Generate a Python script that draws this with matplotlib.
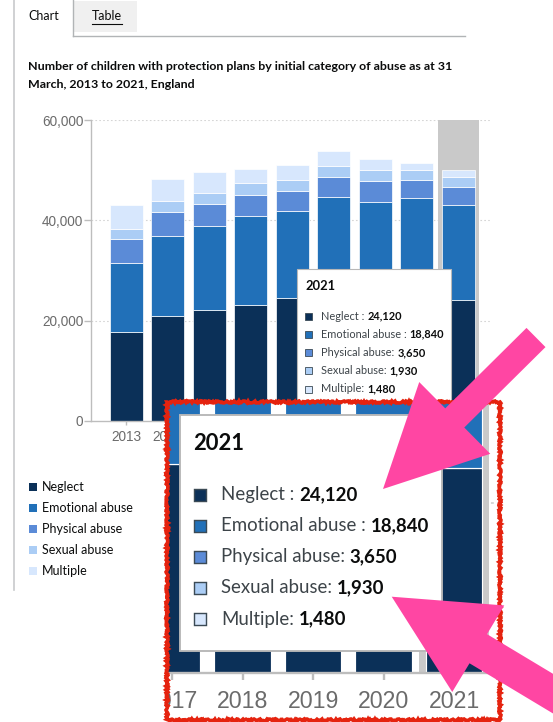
import matplotlib
matplotlib.use('Agg')
import matplotlib.pyplot as plt
import matplotlib.patches as mpatches
import matplotlib.lines as mlines
import matplotlib.transforms as mtransforms
import numpy as np

# ---------------- data ----------------
years = ['2013', '2014', '2015', '2016', '2017', '2018', '2019', '2020', '2021']
categories = ['Neglect', 'Emotional abuse', 'Physical abuse', 'Sexual abuse', 'Multiple']
neglect = [17800, 21000, 22200, 23100, 24600, 25800, 25300, 25200, 24120]
emotional = [13700, 15900, 16600, 17800, 17200, 18800, 18400, 19200, 18840]
physical = [4700, 4700, 4400, 4200, 4000, 4100, 4200, 3700, 3650]
sexual = [2000, 2200, 2300, 2300, 2200, 2200, 2200, 2000, 1930]
multiple = [4900, 4500, 4200, 2900, 3100, 2900, 2200, 1400, 1480]
yticks = [0, 20000, 40000, 60000]
ytick_labels = ['0', '20,000', '40,000', '60,000']
title_lines = ['Number of children with protection plans by initial category of abuse as at 31',
               'March, 2013 to 2021, England']
tooltip_labels = ['Neglect :', 'Emotional abuse :', 'Physical abuse:', 'Sexual abuse:', 'Multiple:']
highlight_index = 8

series = [neglect, emotional, physical, sexual, multiple]
colors = ['#0b3058', '#2170b8', '#5b8bd7', '#abcdf5', '#d7e7fd']

# ---------------- figure ----------------
W, H = 553, 722
fig = plt.figure(figsize=(W / 100, H / 100), dpi=100)
fig.patch.set_facecolor('white')
PX = mtransforms.Affine2D().scale(1, -1).translate(0, H)  # pixel coords from top-left
SANS = ['Lato', 'DejaVu Sans']
TICKF = ['Liberation Sans', 'DejaVu Sans']
renderer = fig.canvas.get_renderer()

def ptext(x, y, s, **kw):
    kw.setdefault('family', SANS)
    kw.setdefault('va', 'center')
    kw.setdefault('ha', 'left')
    return fig.text(x, y, s, transform=PX, **kw)

def prect(x, y, w, h, **kw):
    r = mpatches.Rectangle((x, y), w, h, transform=PX, **kw)
    fig.add_artist(r)
    return r

def pline(xs, ys, **kw):
    l = mlines.Line2D(xs, ys, transform=PX, **kw)
    fig.add_artist(l)
    return l

def width_of(t):
    return t.get_window_extent(renderer=renderer).width

# ---------------- page chrome ----------------
pline([14, 14], [0, 590], color='#c8cacc', lw=1.2)
pline([72.5, 72.5], [0, 36], color='#b1b4b6', lw=1)
pline([72.5, 465], [35.5, 35.5], color='#b1b4b6', lw=1)
prect(74, 1, 63, 31, facecolor='#f0f0f0', edgecolor='none')
ptext(28, 16, 'Chart', fontsize=9, color='#0b0c0c')
tt = ptext(92, 16, 'Table', fontsize=9, color='#0b0c0c')
pline([92, 92 + width_of(tt)], [23.5, 23.5], color='#0b0c0c', lw=0.8)

t1 = ptext(28, 66, title_lines[0], fontsize=8, fontweight='bold', color='#0b0c0c')
t1.set_fontsize(t1.get_fontsize() * 429 / width_of(t1))
ptext(28, 85, title_lines[1], fontsize=t1.get_fontsize(), fontweight='bold', color='#0b0c0c')

# ---------------- chart geometry ----------------
ML, MR, MT, MB = 91, 490, 120, 421
XC0, XSTEP = 126.3, 41.5
YMAX = 60000
x = np.arange(len(years))

def main_px_to_data(px, py):
    return (px - XC0) / XSTEP, (MB - py) / (MB - MT) * YMAX

def draw_bars(a, s):
    a.bar(highlight_index, YMAX, width=1.0, color='#c9c9c9', linewidth=0, zorder=1)
    for v in yticks[1:]:
        a.axhline(v, color='#d5d5d5', lw=0.8 * s, ls=(0, (1.5, 2)), zorder=0.5)
    bottom = np.zeros(len(years))
    for vals, c in zip(series, colors):
        a.bar(x, vals, 0.8, bottom=bottom, color=c, edgecolor='white', linewidth=0.5 * s, zorder=2)
        bottom += np.array(vals)

ax = fig.add_axes([ML / W, 1 - MB / H, (MR - ML) / W, (MB - MT) / H], zorder=0)
ax.set_xlim(main_px_to_data(ML, 0)[0], main_px_to_data(MR, 0)[0])
ax.set_ylim(0, YMAX)
draw_bars(ax, 1.0)
for sp in ['top', 'right']:
    ax.spines[sp].set_visible(False)
for sp in ['left', 'bottom']:
    ax.spines[sp].set_color('#bdbdbd')
    ax.spines[sp].set_linewidth(1.0)
ax.set_yticks(yticks)
ax.set_yticklabels(ytick_labels, family=TICKF, fontsize=9.8, color='#6b6b6b')
ax.set_xticks(x)
ax.set_xticklabels(years, family=TICKF, fontsize=9.8, color='#6b6b6b')
ax.tick_params(axis='y', length=5, width=1, color='#bdbdbd', pad=0.5)
ax.tick_params(axis='x', length=3, width=1, color='#bdbdbd', pad=3.5)
ax.set_facecolor('none')

# ---------------- legend ----------------
for i, (cat, c) in enumerate(zip(categories, colors)):
    yc = 487 + 21 * i
    prect(29, yc - 4, 8, 8, facecolor=c, edgecolor='none')
    ptext(42, yc, cat, fontsize=9, color='#0b0c0c')

# ---------------- tooltip ----------------
def draw_tooltip(ox, oy, s, z):
    prect(ox, oy, 154 * s, 139 * s, facecolor='white', edgecolor='#b8b8b8', lw=0.8 * s, zorder=z)
    ptext(ox + 8 * s, oy + 17 * s, years[highlight_index], fontsize=9.3 * s, fontweight='bold',
          color='#0b0c0c', zorder=z + 1)
    for i, (lab, vals, c) in enumerate(zip(tooltip_labels, series, colors)):
        yc = oy + (47 + 18.25 * i) * s
        prect(ox + 8 * s, yc - 3.5 * s, 7 * s, 7 * s, facecolor=c, edgecolor='#3b4a55',
              lw=0.6 * s, zorder=z + 1)
        t = ptext(ox + 24 * s, yc, lab, fontsize=7.9 * s, color='#3d4449', zorder=z + 1)
        w = width_of(t)
        ptext(ox + 24 * s + w + 3 * s, yc, f'{vals[highlight_index]:,}', fontsize=7.9 * s,
              fontweight='bold', color='#0b0c0c', zorder=z + 1)

TIP_X, TIP_Y = 297, 269
draw_tooltip(TIP_X, TIP_Y, 1.0, 5)

# ---------------- magnified inset ----------------
MAG = 1.7
IN_X, IN_Y = 180, 415  # where the tooltip's top-left lands in the inset
IL, IR, IT, IB = 167, 499, 402, 720

def inset_to_main(xi, yi):
    return TIP_X + (xi - IN_X) / MAG, TIP_Y + (yi - IN_Y) / MAG

# main-chart year labels that sit completely under the inset are not shown
cover_left = inset_to_main(IL, IT)[0]
for i, lab in enumerate(ax.get_xticklabels()):
    if XC0 + i * XSTEP - 16 > IL:
        lab.set_visible(False)

ax2 = fig.add_axes([IL / W, 1 - IB / H, (IR - IL) / W, (IB - IT) / H], zorder=10)
x0, y1 = main_px_to_data(*inset_to_main(IL, IT))
x1, y0 = main_px_to_data(*inset_to_main(IR, IB))
ax2.set_xlim(x0, x1)
ax2.set_ylim(y0, y1)
ax2.set_facecolor('white')
ax2.set_xticks([])
ax2.set_yticks([])
for sp in ax2.spines.values():
    sp.set_visible(False)
draw_bars(ax2, MAG)
ax2.axhline(0, color='#bdbdbd', lw=1.0 * MAG, zorder=3)
tick_len = 4 / (MB - MT) * YMAX
ax2.vlines(x, -tick_len, 0, color='#bdbdbd', lw=1.0 * MAG, zorder=3)
label_y = main_px_to_data(0, 437.7)[1]
for i, yr in enumerate(years):
    if i < x0 - 0.3:
        continue
    t = ax2.text(i, label_y, yr, ha='center', va='center', family=TICKF, fontsize=9.8 * MAG,
                 color='#6b6b6b', clip_on=True)
    t.set_clip_box(ax2.bbox)

draw_tooltip(IN_X, IN_Y, MAG, 15)

border = prect(166.5, 402, 333, 318, fill=False, edgecolor='#e5230f', lw=2.6, zorder=18)
border.set_sketch_params(scale=1.0, length=3, randomness=4)

# ---------------- pink arrows ----------------
PINK = '#ff46a3'
a1_tail, a1_tip = (536, 337.5), (383, 489)
a2_tip = (391.7, 596.7)
a2_tail = (a2_tip[0] + 260 * 0.857, a2_tip[1] + 260 * 0.515)
for tail, tip, w in [(a1_tail, a1_tip, 27), (a2_tail, a2_tip, 34)]:
    arr = mpatches.FancyArrow(tail[0], tail[1], tip[0] - tail[0], tip[1] - tail[1], width=w,
                              head_width=101, head_length=101, length_includes_head=True,
                              transform=PX, facecolor=PINK, edgecolor='none', zorder=20)
    fig.add_artist(arr)

fig.savefig('out.png', dpi=100)
